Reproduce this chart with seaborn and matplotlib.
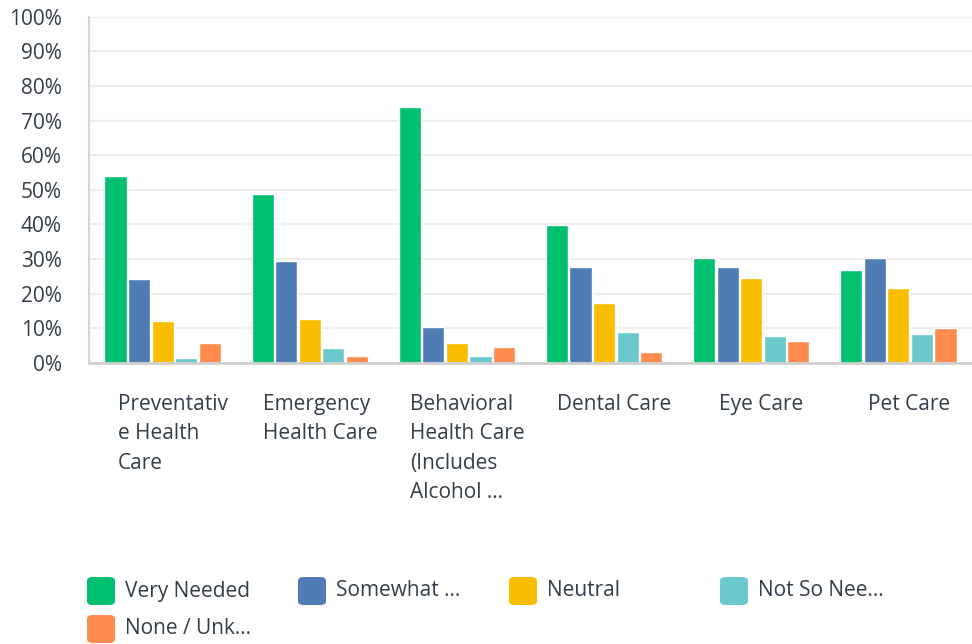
import pandas as pd
import numpy as np
import matplotlib
matplotlib.use("Agg")
import matplotlib.pyplot as plt
import seaborn as sns
from matplotlib.patches import FancyBboxPatch

# categories and responses
categories = ["Preventativ\ne Health\nCare", "Emergency\nHealth Care",
              "Behavioral\nHealth Care\n(Includes\nAlcohol ...",
              "Dental Care", "Eye Care", "Pet Care"]
responses = ["Very Needed", "Somewhat ...", "Neutral", "Not So Nee...", "None / Unk..."]
colors = ["#00BF6F", "#507CB6", "#F9BE00", "#6BC8CD", "#FF8B4F"]

very_needed = [54.0, 48.8, 73.9, 39.9, 30.4, 26.9]
somewhat = [24.3, 29.5, 10.5, 27.8, 27.8, 30.4]
neutral = [12.2, 12.8, 5.9, 17.4, 24.6, 21.7]
not_so = [1.5, 4.4, 2.1, 9.0, 7.9, 8.5]
none_unk = [5.9, 2.1, 4.7, 3.3, 6.4, 10.2]

series = [very_needed, somewhat, neutral, not_so, none_unk]
rows = []
for resp, vals in zip(responses, series):
    for cat, v in zip(categories, vals):
        rows.append({"category": cat, "response": resp, "value": v})
df = pd.DataFrame(rows)

sns.set_style("white")
plt.rcParams['font.family'] = ['Open Sans', 'DejaVu Sans']
text_color = "#333E48"
fs = 15

W, H = 972, 644
fig = plt.figure(figsize=(W / 100, H / 100), dpi=100)
ax = fig.add_axes([89 / W, 1 - 363 / H, 1 - 89 / W, (363 - 16.7) / H])

sns.barplot(data=df, x="category", y="value", hue="response", palette=colors,
            width=0.8, gap=0.06, saturation=1, ax=ax, legend=False)

ax.set_ylim(0, 100)
ax.set_xlim(-0.5, len(categories) - 0.5)
ax.set_yticks(np.arange(0, 101, 10))
ax.set_yticklabels([f"{t}%" for t in range(0, 101, 10)], fontsize=fs, color=text_color)
ax.yaxis.grid(True, color="#EDEDED", linewidth=1.6)
ax.set_axisbelow(True)
ax.tick_params(axis="both", length=0)
ax.tick_params(axis="y", pad=19.5)
ax.set_xlabel("")
ax.set_ylabel("")
# labels sit a little right of the group centre (tick marks are hidden)
ax.set_xticks(np.arange(len(categories)) + 0.07)
ax.set_xticklabels(categories, fontsize=fs, color=text_color, ha="center",
                   multialignment="left", linespacing=1.53, va="top")
ax.tick_params(axis="x", pad=22)
for s in ["top", "right"]:
    ax.spines[s].set_visible(False)
ax.spines["left"].set_color("#D5D5D5")
ax.spines["left"].set_linewidth(1.5)
ax.spines["bottom"].set_color("#D0D0D0")
ax.spines["bottom"].set_linewidth(2)

# legend drawn as a grid of rounded swatches
for i, (resp, col) in enumerate(zip(responses, colors)):
    cx = 87 + 211 * (i % 4)
    cy = 591 + 38 * (i // 4)
    sw = FancyBboxPatch(((cx) / W, 1 - (cy + 14) / H), 28 / W, 28 / H,
                        boxstyle="round,pad=0,rounding_size=0.006",
                        transform=fig.transFigure, facecolor=col, edgecolor="none")
    fig.patches.append(sw)
    fig.text((cx + 38) / W, 1 - cy / H, resp, fontsize=fs, color=text_color,
             va="center", ha="left")

fig.savefig("out.png", dpi=100)
